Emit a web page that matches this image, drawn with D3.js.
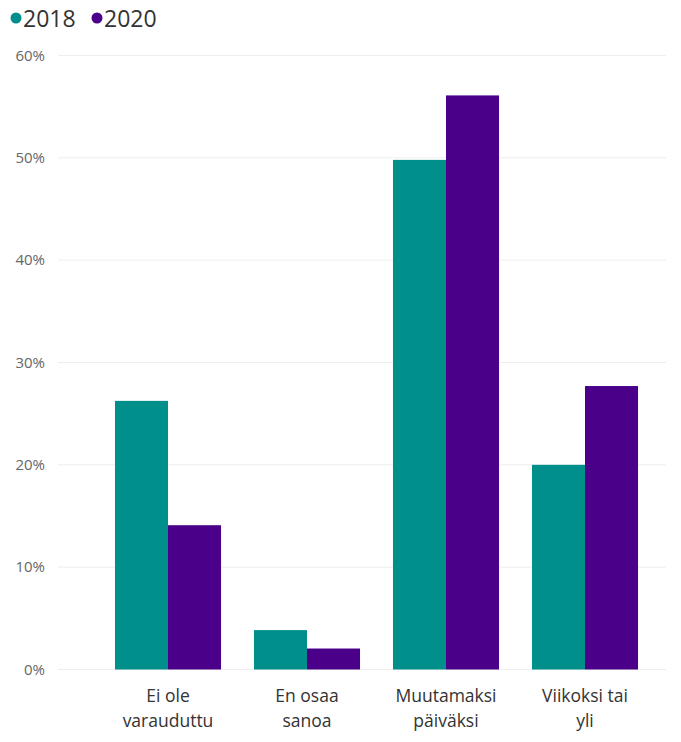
<!DOCTYPE html>
<html><head><meta charset="utf-8">
<script src="https://cdn.jsdelivr.net/npm/d3@7"></script>
<style>body{margin:0;background:#fff;}svg{display:block;font-family:"Open Sans","Noto Sans",sans-serif;}</style>
</head><body>
<svg id="c" width="681" height="742"></svg>
<script>
const categories = [["Ei ole","varauduttu"],["En osaa","sanoa"],["Muutamaksi","päiväksi"],["Viikoksi tai","yli"]];
const series = ["2018","2020"];
const values2018 = [26.25, 3.85, 49.8, 20.0];
const values2020 = [14.1, 2.05, 56.1, 27.7];
const yTicks = [0,10,20,30,40,50,60];
const colors = ["#018f8b","#4b008a"];

const svg = d3.select("#c");
const x0 = d3.scaleBand().domain(d3.range(categories.length)).range([98.5, 654.5]).paddingInner(0.237).paddingOuter(0.1185);
const x1 = d3.scaleBand().domain(series).range([0, x0.bandwidth()]);
const y = d3.scaleLinear().domain([0,60]).range([669.5, 55.5]);

// gridlines
svg.append("g").selectAll("line").data(yTicks).join("line")
  .attr("x1",58).attr("x2",666).attr("y1",d=>y(d)).attr("y2",d=>y(d))
  .attr("stroke","#eeeeee").attr("stroke-width",1);

// y axis labels
const yAxis = d3.axisLeft(y).tickValues(yTicks).tickFormat(d=>d+"%").tickSize(0).tickPadding(0);
const ya = svg.append("g").attr("transform","translate(45,0)").call(yAxis);
ya.select(".domain").remove();
ya.selectAll("text").attr("fill","#666").attr("font-size",15).attr("font-family","'Open Sans',sans-serif");

// bars
const data = [values2018, values2020];
const g = svg.append("g");
series.forEach((s,si)=>{
  g.selectAll(".b"+si).data(data[si]).join("rect")
    .attr("x",(d,i)=>x0(i)+x1(s))
    .attr("y",d=>y(d))
    .attr("width",x1.bandwidth())
    .attr("height",d=>y(0)-y(d))
    .attr("fill",colors[si]);
});

// x labels
const xl = svg.append("g");
categories.forEach((c,i)=>{
  const cx = x0(i)+x0.bandwidth()/2;
  const t = xl.append("text").attr("text-anchor","middle").attr("font-size",17.5).attr("fill","#333")
    .attr("x",cx).attr("y",702);
  c.forEach((line,li)=>t.append("tspan").attr("x",cx).attr("dy",li===0?0:25).text(line));
});

// legend
const leg = svg.append("g");
const legX = [16, 97];
series.forEach((s,si)=>{
  leg.append("circle").attr("cx",legX[si]).attr("cy",18).attr("r",5.5).attr("fill",colors[si]);
  leg.append("text").attr("x",legX[si]+7).attr("y",26.5).attr("font-size",23).attr("fill","#333").text(s);
});
</script>
</body></html>
